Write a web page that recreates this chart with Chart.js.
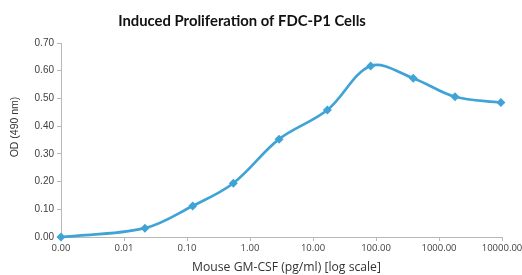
<!DOCTYPE html>
<html><head><meta charset="utf-8">
<script src="https://cdn.jsdelivr.net/npm/chart.js@4.4.0/dist/chart.umd.min.js"></script>
<style>html,body{margin:0;padding:0;background:#fff}#wrap{width:522px;height:275px;position:relative}</style>
</head><body><div id="wrap"><canvas id="c" width="522" height="275"></canvas></div>
<script>
const titleText = 'Induced Proliferation of FDC-P1 Cells';
const xTitle = 'Mouse GM-CSF (pg/ml) [log scale]';
const yTitle = 'OD (490 nm)';
const concentrations = [0.001, 0.0215, 0.123, 0.543, 2.89, 16.9, 82.4, 390, 1795, 9600];
const odValues = [0.000, 0.032, 0.112, 0.194, 0.353, 0.458, 0.617, 0.573, 0.506, 0.485];
const xTickValues = [0.001, 0.01, 0.1, 1, 10, 100, 1000, 10000];
const xTickLabels = ['0.00', '0.01', '0.10', '1.00', '10.00', '100.00', '1000.00', '10000.00'];
const yTickValues = [0, 0.1, 0.2, 0.3, 0.4, 0.5, 0.6, 0.7];
const yTickLabels = ['0.00', '0.10', '0.20', '0.30', '0.40', '0.50', '0.60', '0.70'];

const lineColor = '#3fa3d6';
const axisColor = '#b8b8b8';

function fitFont(ctx, text, weight, family, targetW) {
  ctx.font = weight + ' 100px ' + family;
  const w = ctx.measureText(text).width;
  return 100 * targetW / w;
}

const titlesPlugin = {
  id: 'titles',
  afterDraw(chart) {
    const ctx = chart.ctx;
    ctx.save();
    // main title
    let s = fitFont(ctx, titleText, 'bold', 'Lato', 248);
    ctx.font = 'bold ' + s + 'px Lato';
    ctx.fillStyle = '#111';
    ctx.textAlign = 'center';
    ctx.textBaseline = 'middle';
    ctx.fillText(titleText, 242, 21);
    // x title
    s = fitFont(ctx, xTitle, 'normal', '"Open Sans"', 189);
    ctx.font = s + 'px "Open Sans"';
    ctx.fillStyle = '#333';
    ctx.fillText(xTitle, 286.5, 268);
    // y title
    ctx.font = '10.5px "Liberation Sans"';
    ctx.translate(15, 127);
    ctx.rotate(-Math.PI / 2);
    ctx.fillText(yTitle, 0, 0);
    ctx.restore();
  }
};

new Chart(document.getElementById('c'), {
  type: 'line',
  data: {
    datasets: [{
      data: concentrations.map((x, i) => ({ x: x, y: odValues[i] })),
      borderColor: lineColor,
      backgroundColor: lineColor,
      borderWidth: 2.7,
      tension: 0.35,
      pointStyle: 'rectRot',
      pointRadius: 4.5,
      pointHoverRadius: 4.5,
      pointBorderWidth: 0,
      clip: false,
      fill: false
    }]
  },
  options: {
    responsive: false,
    animation: false,
    devicePixelRatio: 1,
    layout: { padding: { top: 43, right: 20, left: 0, bottom: 0 } },
    plugins: { legend: { display: false }, tooltip: { enabled: false }, title: { display: false } },
    scales: {
      x: {
        type: 'logarithmic',
        min: 0.001,
        max: 10000,
        afterBuildTicks(scale) { scale.ticks = xTickValues.map(v => ({ value: v })); },
        afterFit(scale) { scale.height = 38; scale.paddingLeft = 0; scale.paddingRight = 0; },
        ticks: {
          autoSkip: false,
          maxRotation: 0,
          minRotation: 0,
          padding: 2,
          color: '#404040',
          font: { family: '"Open Sans"', size: 9.5 },
          callback: function (v) { const i = xTickValues.indexOf(v); return i >= 0 ? xTickLabels[i] : ''; }
        },
        grid: { drawOnChartArea: false, drawTicks: true, tickLength: 4, color: axisColor },
        border: { display: true, color: axisColor, width: 1 }
      },
      y: {
        min: 0,
        max: 0.7,
        afterBuildTicks(scale) { scale.ticks = yTickValues.map(v => ({ value: v })); },
        afterFit(scale) { scale.width = 61; scale.paddingTop = 0; scale.paddingBottom = 0; },
        ticks: {
          padding: 3,
          color: '#404040',
          font: { family: '"Liberation Sans"', size: 10 },
          callback: function (v, i) { return yTickLabels[i]; }
        },
        grid: { drawOnChartArea: false, drawTicks: true, tickLength: 4, color: axisColor },
        border: { display: true, color: axisColor, width: 1 }
      }
    }
  },
  plugins: [titlesPlugin]
});
</script>
</body></html>
